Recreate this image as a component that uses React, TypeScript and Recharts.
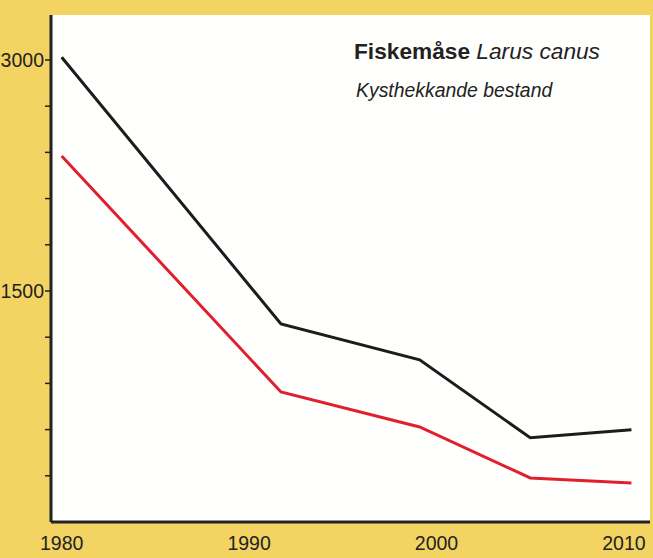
import React from "react";
import { LineChart, Line, XAxis, YAxis, CartesianGrid } from "recharts";

const years = [1980, 1991.7, 1999.1, 2005.0, 2010.4];
const totalBestand = [3018, 1286, 1053, 547, 599];
const kystBestand = [2376, 844, 617, 286, 254];
const xTicks = [1980, 1990, 2000, 2010];
const yTicks = [300, 600, 900, 1200, 1500, 1800, 2100, 2400, 2700, 3000];
const yLabelled = [1500, 3000];
const titleBold = "Fiskemåse";
const titleItalic = "Larus canus";
const subtitle = "Kysthekkande bestand";

const data = years.map((year, i) => ({
  year,
  total: totalBestand[i],
  kyst: kystBestand[i],
}));

const FONT = "'Liberation Sans', Arial, sans-serif";
const INK = "#222";

export default function App() {
  return (
    <div
      style={{
        position: "absolute",
        left: 0,
        top: 0,
        width: 653,
        height: 558,
        background: "#F3D462",
        fontFamily: FONT,
      }}
    >
      <LineChart
        width={653}
        height={558}
        data={data}
        margin={{ top: 15, right: 3, bottom: 0, left: 0 }}
      >
        <CartesianGrid fill="#FFFFFD" horizontal={false} vertical={false} />
        <XAxis
          dataKey="year"
          type="number"
          domain={[1979.43, 2011.39]}
          ticks={xTicks}
          allowDataOverflow
          height={36}
          tickLine={false}
          axisLine={{ stroke: INK, strokeWidth: 3 }}
          tick={{ fill: INK, fontSize: 19.5, fontFamily: FONT }}
          tickMargin={8}
        />
        <XAxis
          xAxisId="top"
          orientation="top"
          type="number"
          domain={[1979.43, 2011.39]}
          height={0}
          tick={false}
          tickLine={false}
          axisLine={{ stroke: INK, strokeWidth: 3 }}
        />
        <YAxis
          type="number"
          domain={[0, 3292]}
          ticks={yTicks}
          allowDataOverflow
          width={51}
          tickSize={6}
          tickMargin={1}
          tickLine={{ stroke: INK, strokeWidth: 1.5 }}
          axisLine={{ stroke: INK, strokeWidth: 3 }}
          tick={{ fill: INK, fontSize: 19.5, fontFamily: FONT }}
          tickFormatter={(v: number) => (yLabelled.includes(v) ? String(v) : "")}
        />
        <YAxis
          yAxisId="right"
          orientation="right"
          type="number"
          domain={[0, 3292]}
          width={0}
          tick={false}
          tickLine={false}
          axisLine={{ stroke: INK, strokeWidth: 3 }}
        />
        <Line
          dataKey="total"
          stroke="#1c1c1c"
          strokeWidth={3}
          dot={false}
          isAnimationActive={false}
          strokeLinejoin="miter"
        />
        <Line
          dataKey="kyst"
          stroke="#E0202E"
          strokeWidth={3}
          dot={false}
          isAnimationActive={false}
          strokeLinejoin="miter"
        />
      </LineChart>
      <div
        style={{
          position: "absolute",
          left: 354,
          top: 40,
          fontSize: 22.7,
          lineHeight: "22px",
          color: INK,
          whiteSpace: "nowrap",
        }}
      >
        <span style={{ fontWeight: "bold" }}>{titleBold}</span>{" "}
        <span style={{ fontStyle: "italic" }}>{titleItalic}</span>
      </div>
      <div
        style={{
          position: "absolute",
          left: 356,
          top: 81,
          fontSize: 19.4,
          lineHeight: "19px",
          fontStyle: "italic",
          color: INK,
          whiteSpace: "nowrap",
        }}
      >
        {subtitle}
      </div>
    </div>
  );
}
